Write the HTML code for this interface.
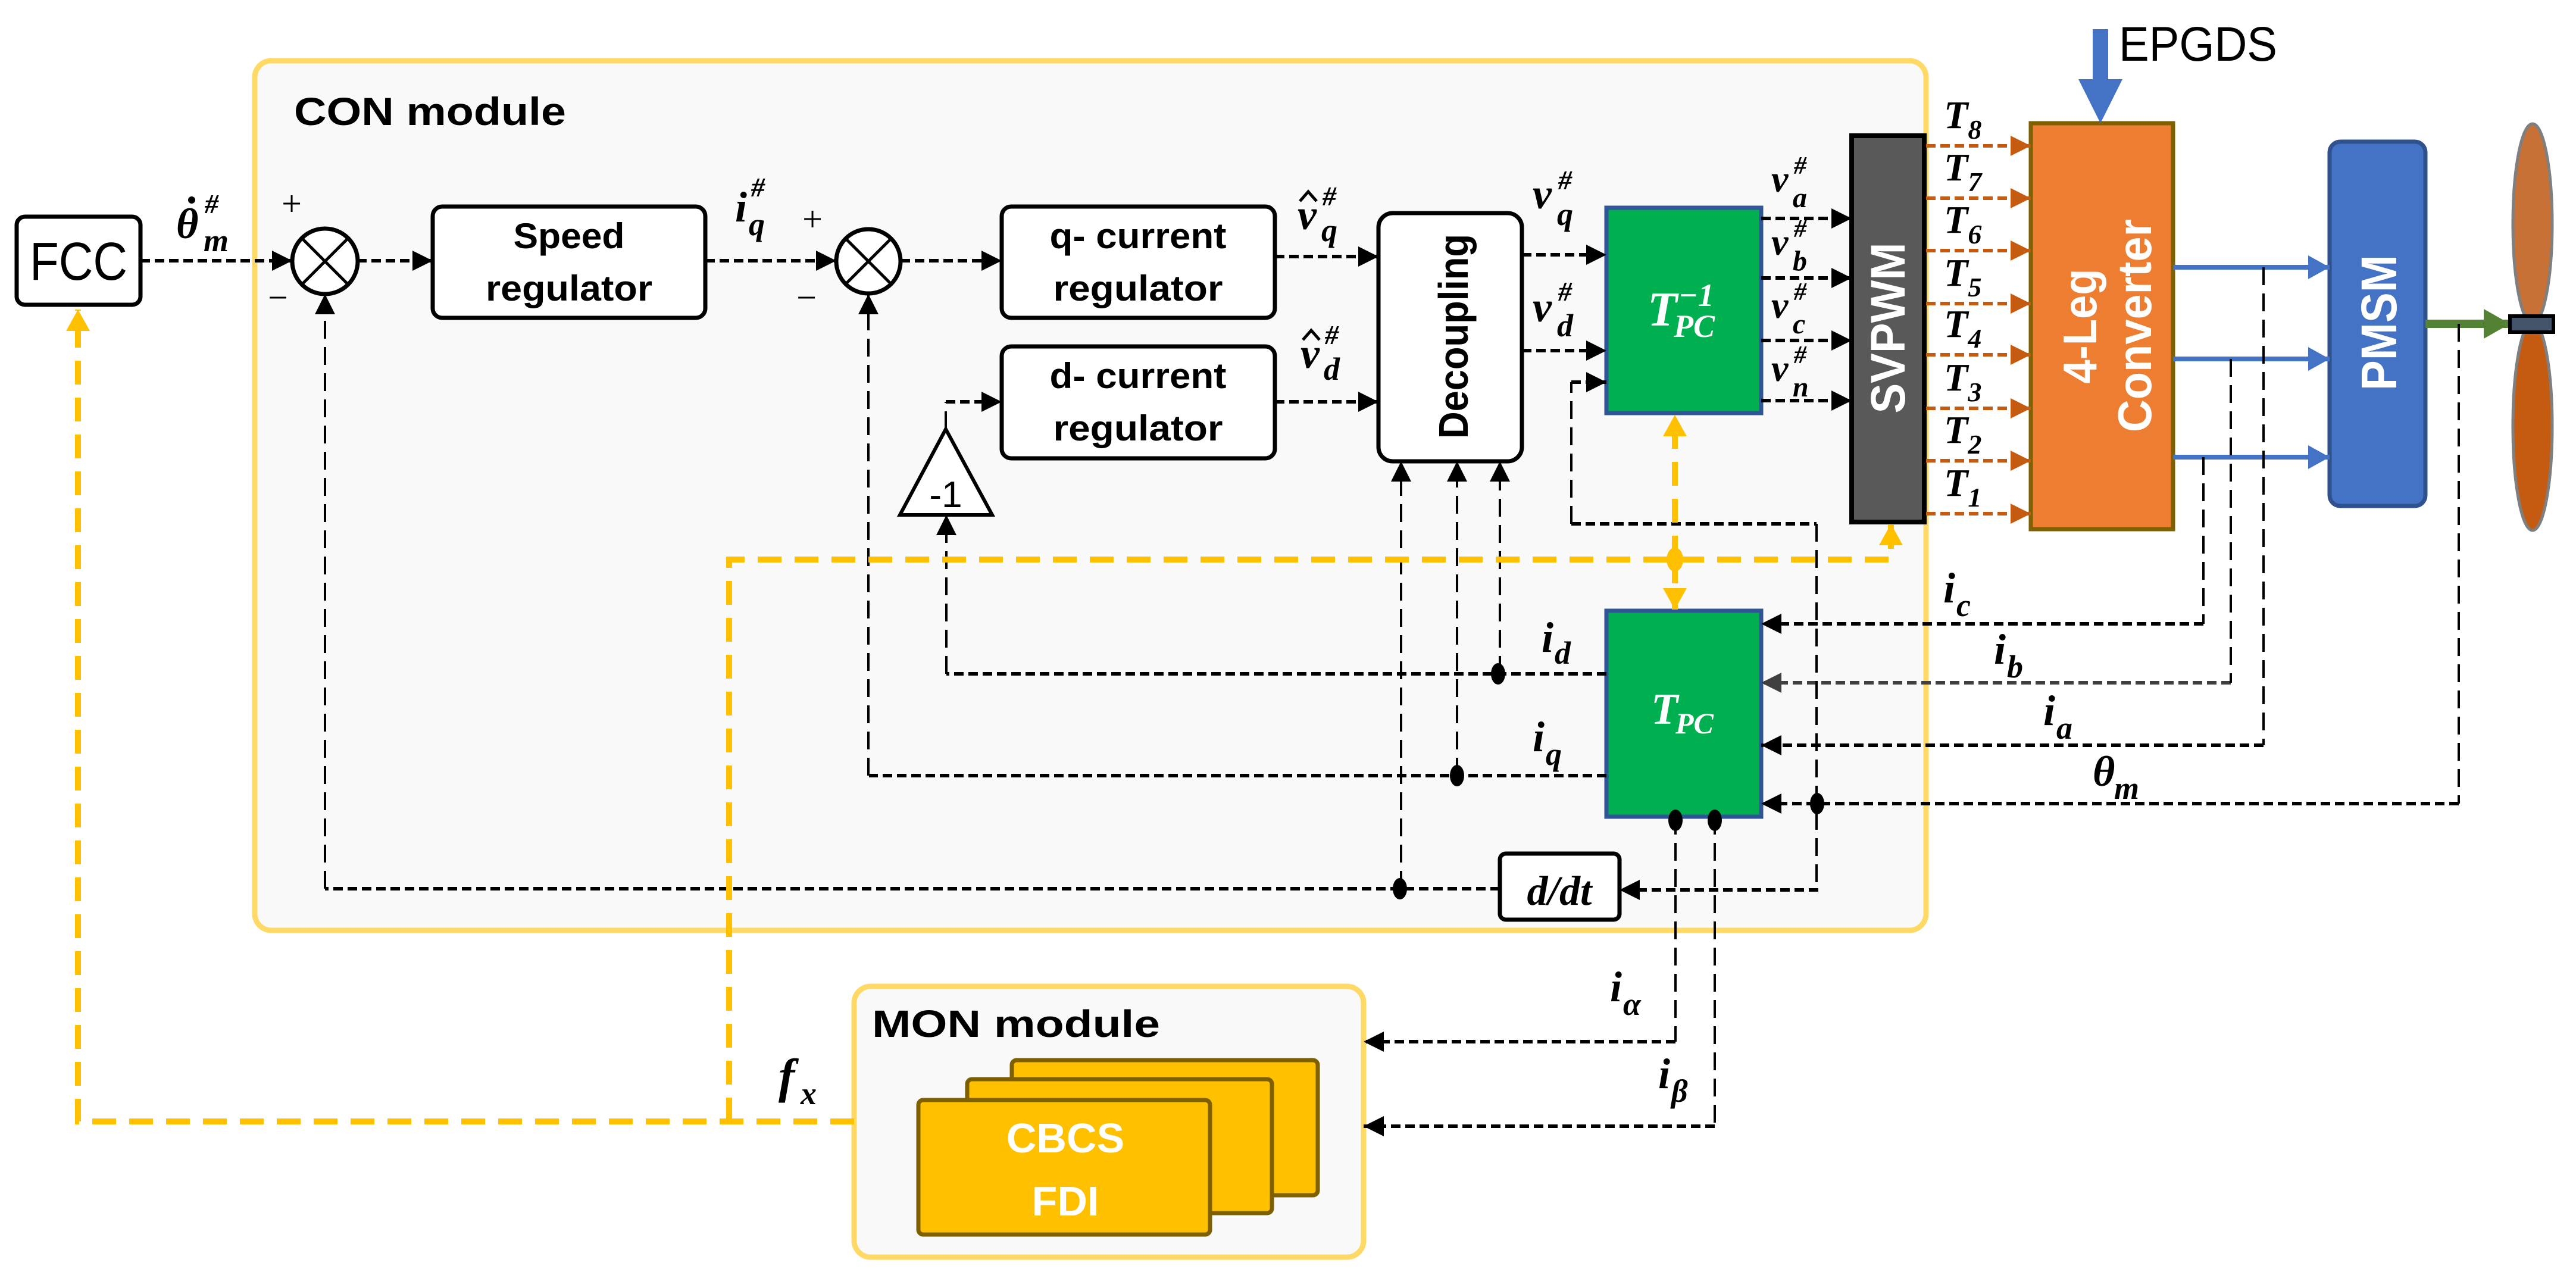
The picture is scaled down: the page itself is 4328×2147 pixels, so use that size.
<!DOCTYPE html>
<html><head><meta charset="utf-8"><style>
html,body{margin:0;padding:0;background:#fff}
svg{display:block}
.b{font-family:"Liberation Sans",sans-serif;font-weight:bold}
.m{font-family:"Liberation Serif",serif;font-style:italic;font-weight:bold}
.th{fill:none;stroke:#000;stroke-width:6;stroke-dasharray:16 8}
.tn{fill:none;stroke:#000;stroke-width:4;stroke-dasharray:30 14}
.yl{fill:none;stroke:#FFC000;stroke-width:10;stroke-dasharray:40 22}
.or{fill:none;stroke:#C55A11;stroke-width:6;stroke-dasharray:16 8}
.bl{fill:none;stroke:#4472C4;stroke-width:8}
</style></head><body>
<svg width="4328" height="2147" viewBox="0 0 4328 2147" xmlns="http://www.w3.org/2000/svg">
<defs>
<marker id="a" markerUnits="userSpaceOnUse" markerWidth="34" markerHeight="34" refX="34" refY="17" orient="auto"><path d="M0,0L34,17L0,34z" fill="#000"/></marker>
<marker id="ag" markerUnits="userSpaceOnUse" markerWidth="34" markerHeight="34" refX="34" refY="17" orient="auto"><path d="M0,0L34,17L0,34z" fill="#404040"/></marker>
<marker id="ao" markerUnits="userSpaceOnUse" markerWidth="34" markerHeight="34" refX="34" refY="17" orient="auto"><path d="M0,0L34,17L0,34z" fill="#C55A11"/></marker>
<marker id="ab" markerUnits="userSpaceOnUse" markerWidth="36" markerHeight="40" refX="36" refY="20" orient="auto"><path d="M0,0L36,20L0,40z" fill="#4472C4"/></marker>
<marker id="agr" markerUnits="userSpaceOnUse" markerWidth="44" markerHeight="50" refX="44" refY="25" orient="auto"><path d="M0,0L44,25L0,50z" fill="#548235"/></marker>
<marker id="ay" markerUnits="userSpaceOnUse" markerWidth="36" markerHeight="40" refX="36" refY="20" orient="auto"><path d="M0,0L36,20L0,40z" fill="#FFC000"/></marker>
</defs>

<rect x="428" y="102" width="2808" height="1461" rx="28" fill="#F9F9F9" stroke="#FFD966" stroke-width="9"/>
<text x="494" y="210" class="b" font-size="66" textLength="457" lengthAdjust="spacingAndGlyphs">CON module</text>

<rect x="1435" y="1657" width="856" height="455" rx="28" fill="#F9F9F9" stroke="#FFD966" stroke-width="9"/>
<text x="1465" y="1742" class="b" font-size="64" textLength="484" lengthAdjust="spacingAndGlyphs">MON module</text>
<rect x="1700" y="1781" width="514" height="227" rx="8" fill="#FFC000" stroke="#7F6000" stroke-width="7"/>
<rect x="1625" y="1813" width="512" height="225" rx="8" fill="#FFC000" stroke="#7F6000" stroke-width="7"/>
<rect x="1543" y="1848" width="490" height="226" rx="8" fill="#FFC000" stroke="#7F6000" stroke-width="7"/>
<text x="1790" y="1936" class="b" font-size="70" fill="#fff" text-anchor="middle">CBCS</text>
<text x="1790" y="2042" class="b" font-size="70" fill="#fff" text-anchor="middle">FDI</text>

<rect x="28" y="364" width="208" height="148" rx="14" fill="#fff" stroke="#000" stroke-width="7"/>
<text x="132" y="470" font-family="Liberation Sans,sans-serif" font-size="90" text-anchor="middle" textLength="164" lengthAdjust="spacingAndGlyphs">FCC</text>

<circle cx="546" cy="439" r="55" fill="#fff" stroke="#000" stroke-width="7"/>
<path d="M507,400L585,478M585,400L507,478" stroke="#000" stroke-width="5"/>
<circle cx="1459" cy="439" r="54" fill="#fff" stroke="#000" stroke-width="7"/>
<path d="M1421,401L1497,477M1497,401L1421,477" stroke="#000" stroke-width="5"/>
<text x="490" y="362" font-family="Liberation Serif,serif" font-size="60" text-anchor="middle">+</text>
<text x="467" y="520" font-family="Liberation Serif,serif" font-size="60" text-anchor="middle">−</text>
<text x="1365" y="388" font-family="Liberation Serif,serif" font-size="60" text-anchor="middle">+</text>
<text x="1355" y="520" font-family="Liberation Serif,serif" font-size="60" text-anchor="middle">−</text>

<rect x="727" y="347" width="458" height="187" rx="16" fill="#fff" stroke="#000" stroke-width="7"/>
<text x="956" y="417" class="b" font-size="60" text-anchor="middle" textLength="187" lengthAdjust="spacingAndGlyphs">Speed</text>
<text x="956" y="505" class="b" font-size="60" text-anchor="middle" textLength="280" lengthAdjust="spacingAndGlyphs">regulator</text>
<rect x="1683" y="347" width="459" height="187" rx="16" fill="#fff" stroke="#000" stroke-width="7"/>
<text x="1912" y="417" class="b" font-size="60" text-anchor="middle" textLength="297" lengthAdjust="spacingAndGlyphs">q- current</text>
<text x="1912" y="505" class="b" font-size="60" text-anchor="middle" textLength="285" lengthAdjust="spacingAndGlyphs">regulator</text>
<rect x="1683" y="582" width="459" height="188" rx="16" fill="#fff" stroke="#000" stroke-width="7"/>
<text x="1912" y="652" class="b" font-size="60" text-anchor="middle" textLength="297" lengthAdjust="spacingAndGlyphs">d- current</text>
<text x="1912" y="740" class="b" font-size="60" text-anchor="middle" textLength="285" lengthAdjust="spacingAndGlyphs">regulator</text>

<polygon points="1589,721 1667,865 1512,865" fill="#fff" stroke="#000" stroke-width="6"/>
<text x="1589" y="852" font-family="Liberation Sans,sans-serif" font-size="62" text-anchor="middle">-1</text>

<rect x="2316" y="358" width="241" height="417" rx="24" fill="#fff" stroke="#000" stroke-width="7"/>
<text transform="translate(2466,565) rotate(-90)" class="b" font-size="70" text-anchor="middle" textLength="344" lengthAdjust="spacingAndGlyphs">Decoupling</text>

<rect x="2699" y="349" width="260" height="345" fill="#00B050" stroke="#2F5597" stroke-width="7"/>
<text x="2768" y="547" class="m" font-size="82" fill="#fff" font-weight="normal">T</text>
<text x="2820" y="514" class="m" font-size="54" fill="#fff" font-weight="normal">−1</text>
<text x="2812" y="566" class="m" font-size="54" fill="#fff" font-weight="normal">PC</text>

<rect x="2699" y="1026" width="260" height="346" fill="#00B050" stroke="#2F5597" stroke-width="7"/>
<text x="2774" y="1216" class="m" font-size="74" fill="#fff" font-weight="normal">T</text>
<text x="2815" y="1232" class="m" font-size="50" fill="#fff" font-weight="normal">PC</text>

<rect x="3111" y="228" width="122" height="649" fill="#595959" stroke="#000" stroke-width="8"/>
<text transform="translate(3200,551) rotate(-90)" class="b" font-size="82" fill="#fff" text-anchor="middle" textLength="287" lengthAdjust="spacingAndGlyphs">SVPWM</text>

<rect x="3412" y="207" width="239" height="682" fill="#ED7D31" stroke="#7F6000" stroke-width="7"/>
<text transform="translate(3522,548) rotate(-90)" class="b" font-size="80" fill="#fff" text-anchor="middle" textLength="193" lengthAdjust="spacingAndGlyphs">4-Leg</text>
<text transform="translate(3614,547) rotate(-90)" class="b" font-size="80" fill="#fff" text-anchor="middle" textLength="358" lengthAdjust="spacingAndGlyphs">Converter</text>

<rect x="3914" y="238" width="161" height="612" rx="18" fill="#4472C4" stroke="#2F528F" stroke-width="7"/>
<text transform="translate(4026,542) rotate(-90)" class="b" font-size="84" fill="#fff" text-anchor="middle" textLength="228" lengthAdjust="spacingAndGlyphs">PMSM</text>

<path d="M3529,49V140" stroke="#4472C4" stroke-width="26"/>
<polygon points="3492,133 3566,133 3529,207" fill="#4472C4"/>
<text x="3560" y="102" font-family="Liberation Sans,sans-serif" font-size="82" textLength="266" lengthAdjust="spacingAndGlyphs">EPGDS</text>

<ellipse cx="4255" cy="376" rx="33" ry="168" fill="#C87137" stroke="#7f7f7f" stroke-width="5"/>
<ellipse cx="4255" cy="716" rx="33" ry="175" fill="#C55A11" stroke="#7f7f7f" stroke-width="5"/>
<path d="M4075,544H4217" stroke="#548235" stroke-width="14" marker-end="url(#agr)"/>
<rect x="4217" y="531" width="73" height="27" fill="#44546A" stroke="#000" stroke-width="6"/>

<path class="bl" d="M3651,449H3914" marker-end="url(#ab)"/>
<path class="bl" d="M3651,603H3914" marker-end="url(#ab)"/>
<path class="bl" d="M3651,768H3914" marker-end="url(#ab)"/>

<g class="or">
<path d="M3236,245H3412" marker-end="url(#ao)"/>
<path d="M3236,333H3412" marker-end="url(#ao)"/>
<path d="M3236,421H3412" marker-end="url(#ao)"/>
<path d="M3236,510H3412" marker-end="url(#ao)"/>
<path d="M3236,596H3412" marker-end="url(#ao)"/>
<path d="M3236,686H3412" marker-end="url(#ao)"/>
<path d="M3236,774H3412" marker-end="url(#ao)"/>
<path d="M3236,863H3412" marker-end="url(#ao)"/>
</g>
<g class="m" font-size="66">
<text x="3266" y="215">T<tspan font-size="46" dy="18">8</tspan></text>
<text x="3266" y="303">T<tspan font-size="46" dy="18">7</tspan></text>
<text x="3266" y="391">T<tspan font-size="46" dy="18">6</tspan></text>
<text x="3266" y="480">T<tspan font-size="46" dy="18">5</tspan></text>
<text x="3266" y="566">T<tspan font-size="46" dy="18">4</tspan></text>
<text x="3266" y="656">T<tspan font-size="46" dy="18">3</tspan></text>
<text x="3266" y="744">T<tspan font-size="46" dy="18">2</tspan></text>
<text x="3266" y="833">T<tspan font-size="46" dy="18">1</tspan></text>
</g>

<g class="th">
<path d="M236,438H491" marker-end="url(#a)"/>
<path d="M600,438H727" marker-end="url(#a)"/>
<path d="M1185,438H1405" marker-end="url(#a)"/>
<path d="M1513,438H1683" marker-end="url(#a)"/>
<path d="M2142,431H2316" marker-end="url(#a)"/>
<path d="M1589,675H1683" marker-end="url(#a)"/>
<path d="M2142,675H2316" marker-end="url(#a)"/>
<path d="M2557,428H2699" marker-end="url(#a)"/>
<path d="M2557,589H2699" marker-end="url(#a)"/>
<path d="M2640,642H2699" marker-end="url(#a)"/>
<path d="M2640,880H3052"/>
<path d="M2959,367H3111" marker-end="url(#a)"/>
<path d="M2959,467H3111" marker-end="url(#a)"/>
<path d="M2959,572H3111" marker-end="url(#a)"/>
<path d="M2959,673H3111" marker-end="url(#a)"/>
<path d="M3702,1048H2959" marker-end="url(#a)"/>
<path d="M3748,1147H2959" stroke="#404040" marker-end="url(#ag)"/>
<path d="M3803,1252H2959" marker-end="url(#a)"/>
<path d="M4131,1350H2959" marker-end="url(#a)"/>
<path d="M3055,1495H2721" marker-end="url(#a)"/>
<path d="M2520,1493H546"/>
<path d="M2699,1132H1590"/>
<path d="M2699,1303H1460"/>
<path d="M2815,1750H2291" marker-end="url(#a)"/>
<path d="M2881,1892H2291" marker-end="url(#a)"/>
</g>
<g class="tn">
<path d="M1589,721V675"/>
<path d="M2640,880V642"/>
<path d="M3052,880V1495"/>
<path d="M3702,768V1048"/>
<path d="M3748,603V1147"/>
<path d="M3803,449V1252"/>
<path d="M4131,544V1350"/>
<path d="M546,1493V494" marker-end="url(#a)"/>
<path d="M1590,1132V865" marker-end="url(#a)"/>
<path d="M1459,1303V494" marker-end="url(#a)"/>
<path d="M2520,1132V775" marker-end="url(#a)"/>
<path d="M2448,1303V775" marker-end="url(#a)"/>
<path d="M2354,1493V775" marker-end="url(#a)"/>
<path d="M2815,1372V1750"/>
<path d="M2881,1372V1892"/>
</g>
<g fill="#000">
<ellipse cx="2517" cy="1132" rx="12" ry="18"/>
<ellipse cx="2448" cy="1303" rx="12" ry="18"/>
<ellipse cx="2352" cy="1493" rx="12" ry="18"/>
<ellipse cx="3053" cy="1350" rx="12" ry="18"/>
<ellipse cx="2815" cy="1378" rx="12" ry="18"/>
<ellipse cx="2881" cy="1378" rx="12" ry="18"/>
</g>

<rect x="2520" y="1434" width="201" height="111" rx="10" fill="#fff" stroke="#000" stroke-width="7"/>
<text x="2620" y="1520" class="m" font-size="70" text-anchor="middle">d/dt</text>

<path class="yl" d="M1435,1884H131V520" marker-end="url(#ay)"/>
<path class="yl" d="M1225,1884V940H3177V880" marker-end="url(#ay)"/>
<path class="yl" d="M2814,940V697" marker-end="url(#ay)"/>
<path class="yl" d="M2814,940V1024" marker-end="url(#ay)"/>
<ellipse cx="2814" cy="940" rx="14" ry="20" fill="#FFC000"/>

<g class="m" font-size="72">
<text x="296" y="400">θ</text><circle cx="322" cy="336" r="6" fill="#000"/>
<text x="344" y="358" font-size="46">#</text><text x="342" y="422" font-size="54">m</text>
<text x="1235" y="372">i</text><text x="1262" y="330" font-size="46">#</text><text x="1258" y="395" font-size="54">q</text>
<text x="2180" y="385">v</text><path d="M2184,338L2198,322L2212,338" fill="none" stroke="#000" stroke-width="5"/>
<text x="2222" y="345" font-size="46">#</text><text x="2220" y="405" font-size="54">q</text>
<text x="2185" y="618">v</text><path d="M2189,571L2203,555L2217,571" fill="none" stroke="#000" stroke-width="5"/>
<text x="2226" y="578" font-size="46">#</text><text x="2224" y="638" font-size="54">d</text>
<text x="2575" y="350">v</text><text x="2618" y="318" font-size="46">#</text><text x="2616" y="378" font-size="54">q</text>
<text x="2575" y="540">v</text><text x="2618" y="505" font-size="46">#</text><text x="2616" y="565" font-size="54">d</text>
<text x="2976" y="322" font-size="64">v</text><text x="3014" y="292" font-size="42">#</text><text x="3012" y="348" font-size="48">a</text>
<text x="2976" y="428" font-size="64">v</text><text x="3014" y="398" font-size="42">#</text><text x="3012" y="454" font-size="48">b</text>
<text x="2976" y="534" font-size="64">v</text><text x="3014" y="504" font-size="42">#</text><text x="3012" y="560" font-size="48">c</text>
<text x="2976" y="640" font-size="64">v</text><text x="3014" y="610" font-size="42">#</text><text x="3012" y="666" font-size="48">n</text>
<text x="2590" y="1095">i</text><text x="2612" y="1115" font-size="54">d</text>
<text x="2575" y="1262">i</text><text x="2597" y="1285" font-size="54">q</text>
<text x="3265" y="1012">i</text><text x="3287" y="1035" font-size="54">c</text>
<text x="3350" y="1115">i</text><text x="3372" y="1138" font-size="54">b</text>
<text x="3433" y="1218">i</text><text x="3455" y="1241" font-size="54">a</text>
<text x="3516" y="1320">θ</text><text x="3552" y="1342" font-size="54">m</text>
<text x="2705" y="1682">i</text><text x="2727" y="1705" font-size="54">α</text>
<text x="2786" y="1828">i</text><text x="2808" y="1851" font-size="54">β</text>
<text x="1308" y="1835" font-size="82">f</text><text x="1345" y="1855" font-size="54">x</text>
</g>
</svg>
</body></html>
